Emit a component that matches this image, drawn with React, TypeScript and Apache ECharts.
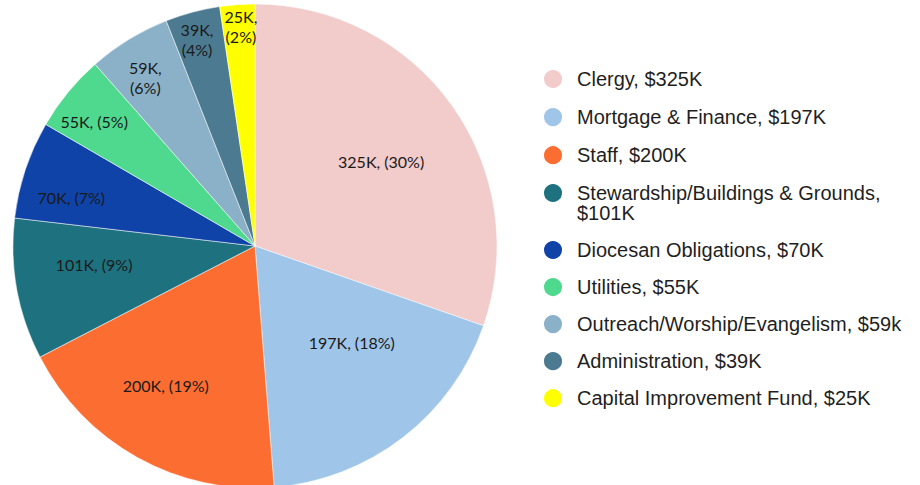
import React, { useEffect, useRef } from "react";
import * as echarts from "echarts";

const categories = [
  "Clergy",
  "Mortgage & Finance",
  "Staff",
  "Stewardship/Buildings & Grounds",
  "Diocesan Obligations",
  "Utilities",
  "Outreach/Worship/Evangelism",
  "Administration",
  "Capital Improvement Fund",
];
const values = [325, 197, 200, 101, 70, 55, 59, 39, 25];
const legendAmounts = ["$325K", "$197K", "$200K", "$101K", "$70K", "$55K", "$59k", "$39K", "$25K"];

const colors = [
  "#F2CBCB",
  "#9FC5E8",
  "#FC6D32",
  "#1E7280",
  "#0F43A8",
  "#4FD98E",
  "#8AB1C8",
  "#4C7B91",
  "#FFFF00",
];
// label nudges (styling only)
const labelOffsets: number[][] = [
  [25, -13],
  [21, -2],
  [-29, 31],
  [-39, -4],
  [-66, -9],
  [-65, -46],
  [-45, -63],
  [-26, -87],
  [-5, -96],
];
const twoLineLabel = [false, false, false, false, false, false, true, true, true];

export default function App() {
  const ref = useRef<HTMLDivElement>(null);
  useEffect(() => {
    if (!ref.current) return;
    const chart = echarts.init(ref.current, undefined, { renderer: "svg" });
    const total = values.reduce((a, b) => a + b, 0);
    const legendText: Record<string, string> = {};
    categories.forEach((c, i) => {
      // the wrapped item gets an empty first line so its first text line sits beside the icon
      legendText[c] = i === 3 ? `\n${c},\n${legendAmounts[i]}` : `${c}, ${legendAmounts[i]}`;
    });
    const legendTextStyle = {
      fontFamily: "'Liberation Sans', Arial, sans-serif",
      fontSize: 20,
      lineHeight: 20,
      color: "#1f1f1f",
      padding: [0, 0, 0, 9],
    };
    const legendBase = {
      orient: "vertical" as const,
      left: 542,
      padding: 0,
      icon: "circle",
      itemWidth: 20,
      itemHeight: 20,
      formatter: (n: string) => legendText[n],
      textStyle: legendTextStyle,
    };
    chart.setOption({
      animation: false,
      color: colors,
      legend: [
        {
          ...legendBase,
          top: 68,
          itemGap: 16.1,
          data: categories.slice(0, 3),
        },
        {
          ...legendBase,
          top: 163,
          itemGap: 10,
          data: categories.slice(3, 4),
        },
        {
          ...legendBase,
          top: 239,
          itemGap: 15.05,
          data: categories.slice(4),
        },
      ],
      series: [
        {
          type: "pie",
          center: [255, 246],
          radius: [0, 242],
          startAngle: 90,
          clockwise: true,
          avoidLabelOverlap: false,
          itemStyle: { borderColor: "#ffffff", borderWidth: 0.5 },
          emphasis: { disabled: true },
          label: {
            show: true,
            position: "inside",
            fontFamily: "Lato, 'Open Sans', sans-serif",
            fontSize: 16,
            lineHeight: 20,
            color: "#1a1a1a",
          },
          labelLine: { show: false },
          data: categories.map((c, i) => ({
            name: c,
            value: values[i],
            label: {
              offset: labelOffsets[i],
              formatter: () => {
                const pct = Math.round((values[i] / total) * 100);
                return twoLineLabel[i]
                  ? `${values[i]}K,\n(${pct}%)`
                  : `${values[i]}K, (${pct}%)`;
              },
            },
          })),
        },
      ],
    });
    return () => chart.dispose();
  }, []);
  return (
    <div
      ref={ref}
      style={{ position: "absolute", left: 0, top: 0, width: 920, height: 485, background: "#fff" }}
    />
  );
}
